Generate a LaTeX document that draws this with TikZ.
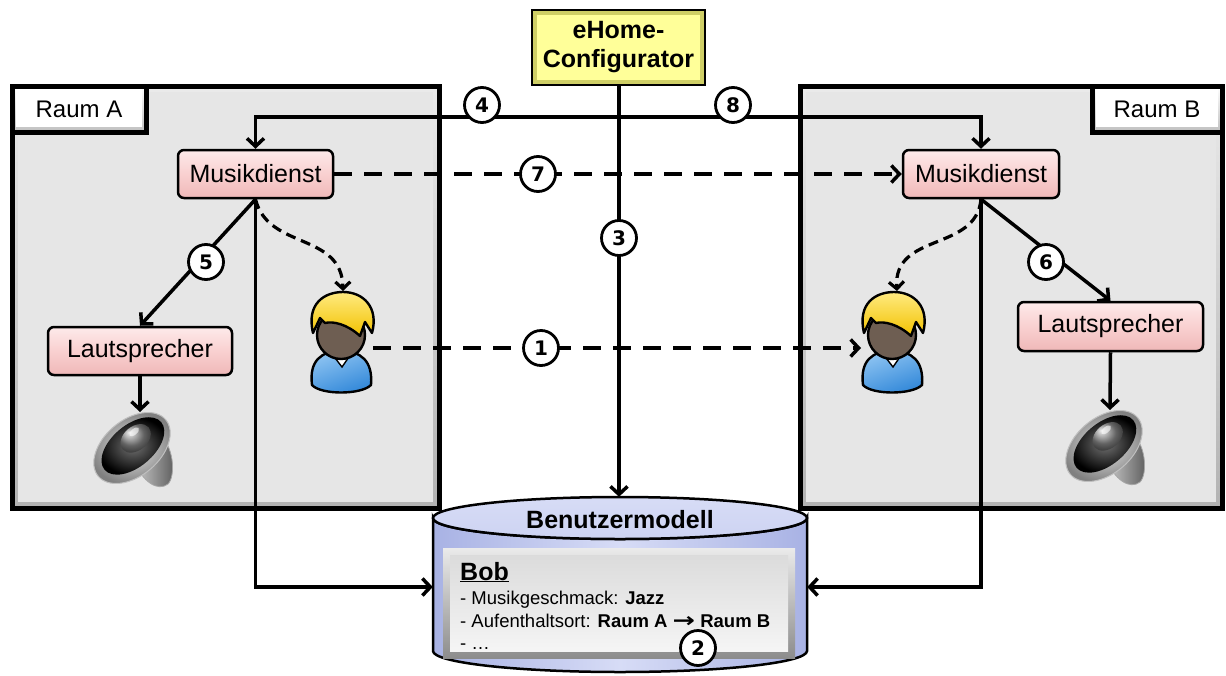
\documentclass[tikz,border=0pt]{standalone}
\usepackage{fontspec}
\usepackage{graphicx}
\setmainfont{Liberation Sans}
\newfontfamily\symfont{DejaVu Sans}
\usetikzlibrary{arrows.meta,calc}

\definecolor{roomfill}{HTML}{E6E6E6}
\definecolor{pinkfill}{HTML}{F9D0D0}
\definecolor{pinktop}{HTML}{FDEAEA}
\definecolor{pinkbot}{HTML}{EFB8B8}
\definecolor{confedge}{HTML}{CFCF66}
\definecolor{confin}{HTML}{FFFF99}
\definecolor{dbside}{HTML}{A8B2E4}
\definecolor{dbmid}{HTML}{D7DCF6}
\definecolor{dbtop}{HTML}{CDD3F2}
\definecolor{hairyellow}{HTML}{F2C200}
\definecolor{hairlight}{HTML}{FFEA80}
\definecolor{skinbrown}{HTML}{6E5E52}
\definecolor{shirtblue}{HTML}{2F86D8}
\definecolor{shirtlight}{HTML}{8EC4F2}

\tikzset{
  conn/.style={line width=3.5pt},
  arr/.style={conn,-{Straight Barb[length=8pt,width=17pt]}},
  dasharr/.style={arr,dash pattern=on 18pt off 12pt},
  curvearr/.style={line width=3.2pt,dash pattern=on 10pt off 6pt,
    -{Straight Barb[length=7pt,width=15pt]}},
  room/.style={draw,line width=5pt,inner sep=0pt,
    path picture={
      \shade[top color=white!92!black,bottom color=black!30]
        (path picture bounding box.south west) rectangle (path picture bounding box.north east);
      \fill[roomfill] ([shift={(6pt,6pt)}]path picture bounding box.south west)
        rectangle ([shift={(-6pt,-6pt)}]path picture bounding box.north east);}},
  roomlbl/.style={draw,line width=5pt,inner sep=0pt,font=\fontsize{24}{28}\selectfont,
    path picture={
      \shade[top color=white,bottom color=black!25]
        (path picture bounding box.south west) rectangle (path picture bounding box.north east);
      \fill[white] ([shift={(4pt,5pt)}]path picture bounding box.south west)
        rectangle ([shift={(-4pt,-3pt)}]path picture bounding box.north east);}},
  svc/.style={draw,line width=2.5pt,rounded corners=6pt,inner sep=0pt,
    top color=pinktop,bottom color=pinkbot,middle color=pinkfill,
    font=\fontsize{25}{28}\selectfont},
  conf/.style={draw,line width=2.5pt,inner sep=0pt,align=center,
    font=\fontsize{25}{29}\selectfont\bfseries,
    path picture={
      \fill[confedge] (path picture bounding box.south west) rectangle (path picture bounding box.north east);
      \fill[confin] ([shift={(5pt,5pt)}]path picture bounding box.south west)
        rectangle ([shift={(-5pt,-5pt)}]path picture bounding box.north east);}},
  num/.style={circle,draw,line width=2.8pt,fill=white,minimum size=35pt,inner sep=0pt,
    font=\symfont\fontsize{20}{20}\selectfont\bfseries},
  person/.pic={
    % body
    \draw[line width=2.4pt,top color=shirtlight,bottom color=shirtblue,shading angle=20]
      (-29,52) .. controls (-32,28) and (-20,18) .. (0,18)
      .. controls (20,18) and (32,28) .. (30,52)
      .. controls (20,62) and (-20,62) .. cycle;
    % collar
    \draw[line width=1.4pt,fill=white] (-9,21) -- (10,21) -- (1,34) -- cycle;
    % head
    \draw[line width=2.4pt,fill=skinbrown] (0,2) circle[radius=24pt];
    % hair
    \draw[line width=2.4pt,line join=round,top color=hairlight,bottom color=hairyellow]
      (-28,0) .. controls (-35,-30) and (-16,-41) .. (2,-41)
      .. controls (22,-41) and (38,-26) .. (31,0)
      -- (24,-11) -- (19,3)
      .. controls (6,-9) and (-8,-12) .. (-16,-10)
      -- (-21,-15) -- cycle;
  },
  speaker/.pic={
    % back housing
    \shade[left color=black!20,right color=black!65,draw=black!35,line width=0.8pt]
      (2,12) -- (26,-14) .. controls (42,-4) and (44,28) .. (36,36)
      .. controls (26,44) and (10,34) .. cycle;
    % rim
    \shade[rotate=40,inner color=black!10,outer color=black!50,draw=black!25,line width=1pt]
      (0,0) ellipse[x radius=44pt,y radius=28pt];
    % cone
    \shade[rotate=40,inner color=black!55,outer color=black]
      (2,-1) ellipse[x radius=37pt,y radius=21pt];
    % dust cap
    \shade[rotate=40,ball color=black!45]
      (9,-5) ellipse[x radius=17pt,y radius=12pt];
    \fill[rotate=40,white,opacity=0.6]
      (12,-11) ellipse[x radius=6pt,y radius=3pt];
  }
}

\begin{document}
\begin{tikzpicture}[x=1pt,y=-1pt]
\useasboundingbox (0,0) rectangle (1226,675);

% rooms
\node[room,minimum width=427pt,minimum height=422pt] (roomA) at (225.5,297) {};
\node[room,minimum width=422pt,minimum height=422pt] (roomB) at (1011,297) {};
\node[roomlbl,minimum width=134pt,minimum height=46pt] (lblA) at (79,109) {Raum A};
\node[roomlbl,minimum width=130pt,minimum height=46pt] (lblB) at (1157,109) {Raum B};

% configurator
\node[conf,minimum width=173pt,minimum height=75pt] (conf) at (618.5,47.5) {eHome-\\Configurator};

% services
\node[svc,minimum width=155pt,minimum height=48pt] (mA) at (255.5,174) {Musikdienst};
\node[svc,minimum width=156pt,minimum height=48pt] (mB) at (981,174) {Musikdienst};
\node[svc,minimum width=184pt,minimum height=48pt] (lA) at (140,351) {Lautsprecher};
\node[svc,minimum width=185pt,minimum height=49pt] (lB) at (1110.5,326.5) {Lautsprecher};

% icons
\pic at (132,448) {speaker};
\pic at (1104,446) {speaker};
\pic at (341,333) {person};
\pic at (892,333) {person};
\coordinate (pAtop) at (343,291);
\coordinate (pAright) at (373,348);
\coordinate (pBtop) at (897,291);
\coordinate (pBleft) at (861,348);
\coordinate (spA) at (140,412);
\coordinate (spB) at (1110,410);

% user model database
\node[minimum width=374pt,minimum height=175pt,inner sep=0pt] (db) at (620,584.5) {};
\shade[left color=dbside,right color=dbside,middle color=dbmid,draw,line width=2.5pt]
  (433,518) -- (433,651) arc[start angle=180,end angle=360,x radius=187pt,y radius=21pt]
  -- (807,518) arc[start angle=0,end angle=-180,x radius=187pt,y radius=21pt] -- cycle;
\draw[line width=2.5pt,top color=dbmid,bottom color=dbtop]
  (620,518) ellipse[x radius=187pt,y radius=21pt];
\node[font=\fontsize{25}{28}\selectfont\bfseries] (dbtitle) at (620,520) {Benutzermodell};
\shade[top color=black!8,bottom color=black!45] (443,548) rectangle (795,658);
\shade[top color=black!14,bottom color=black!4] (450,555) rectangle (788,651);
\node[anchor=base west,inner sep=0pt,font=\fontsize{25}{28}\selectfont\bfseries]
  (bob) at (460,580) {\underline{Bob}};
\node[anchor=base west,inner sep=0pt,font=\fontsize{18.5}{22}\selectfont]
  (attr1) at (460,604) {- Musikgeschmack: \textbf{Jazz}};
\node[anchor=base west,inner sep=0pt,font=\fontsize{18.5}{22}\selectfont]
  (attr2) at (460,627) {- Aufenthaltsort: \textbf{Raum A} \scalebox{1.45}[1.1]{\symfont\bfseries →} \textbf{Raum B}};
\node[anchor=base west,inner sep=0pt,font=\fontsize{18.5}{22}\selectfont]
  (attr3) at (460,649) {- …};

% connectors
\coordinate (busTop) at (619,117);
\coordinate (busLow) at (0,587);
\draw[conn,{Straight Barb[length=8pt,width=17pt]}-{Straight Barb[length=8pt,width=17pt]}]
  (mA.north) |- (busTop) -| (mB.north);
\draw[arr] (conf.south -| busTop) -- (busTop |- db.north);
\draw[dasharr] (mA.east) -- (mB.west);
\draw[dasharr] (pAright) -- (pBleft);
\draw[curvearr] (mA.south) .. controls (268,250) and (342,232) .. (pAtop);
\draw[curvearr] (mB.south) .. controls (976,252) and (893,232) .. (pBtop);
\draw[arr] (mA.south) -- (lA.north);
\draw[arr] (mB.south) -- (lB.north);
\draw[arr] (lA.south) -- (spA);
\draw[arr] (lB.south) -- (spB);
\draw[arr] (mA.south) |- (busLow -| db.west);
\draw[arr] (mB.south) |- (busLow -| db.east);

% step numbers
\node[num] (n1) at (541,348) {1};
\node[num] (n2) at (698,648) {2};
\node[num] (n3) at (619,238) {3};
\node[num] (n4) at (482,105) {4};
\node[num] (n5) at (206,262) {5};
\node[num] (n6) at (1046,262) {6};
\node[num] (n7) at (538,174) {7};
\node[num] (n8) at (733,105) {8};
\end{tikzpicture}
\end{document}
